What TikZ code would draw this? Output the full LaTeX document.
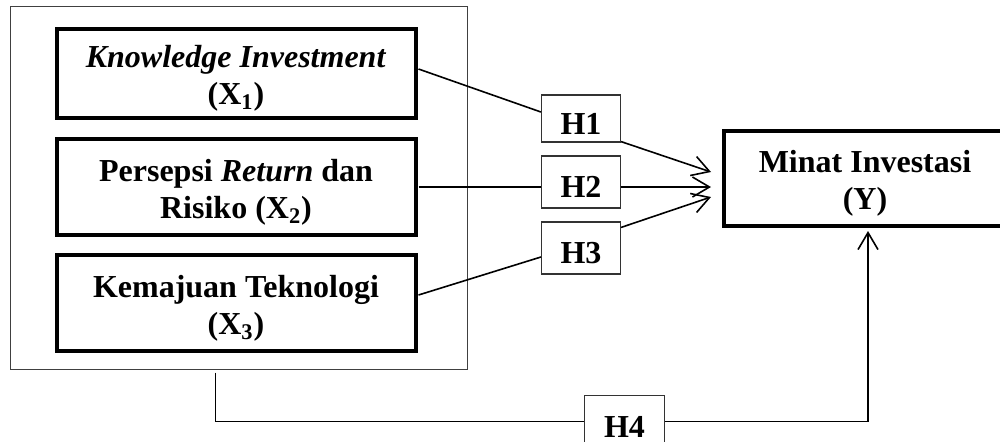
\documentclass[tikz,border=0pt]{standalone}
\usepackage{fontspec}
\setmainfont{Liberation Serif}
\usetikzlibrary{arrows.meta,calc}
\tikzset{
  thickbox/.style={draw=black, line width=2pt, rectangle, inner sep=0pt, minimum width=179.5pt},
  hbox/.style={draw=black!80, line width=0.6pt, rectangle, inner sep=0pt, minimum width=39.5pt},
  outerbox/.style={draw=black!75, line width=0.5pt, rectangle, inner sep=0pt},
  txt/.style={font=\fontsize{16}{18.5}\selectfont\bfseries, align=center, inner sep=0pt},
  conn/.style={line width=0.8pt, black},
  arr/.style={conn, -{Straight Barb[length=8.5pt,width=10pt,line width=0.8pt]}},
}
\begin{document}
\begin{tikzpicture}[x=0.5pt,y=-0.5pt]
\useasboundingbox (0,0) rectangle (1000,441);
% outer frame
\node[outerbox, minimum width=228.5pt, minimum height=181.5pt] (outer) at (238.5,187.5) {};
% independent variables
\node[thickbox, minimum height=44.5pt] (b1) at (236,73.5) {};
\node[thickbox, minimum height=48pt] (b2) at (236,187) {};
\node[thickbox, minimum height=48pt] (b3) at (236,303) {};
\node[txt] (t1x) at ($(b1.center)+(0,5)$) {\textit{Knowledge Investment}\\(X\textsubscript{1})};
\node[txt] (t2x) at ($(b2.center)+(0,5)$) {Persepsi \textit{Return} dan\\Risiko (X\textsubscript{2})};
\node[txt] (t3x) at ($(b3.center)+(0,5)$) {Kemajuan Teknologi\\(X\textsubscript{3})};
% dependent variable
\node[thickbox, minimum width=141pt, minimum height=47.5pt] (yb) at (865,178.5) {};
\node[txt] (tyx) at ($(yb.center)+(0,5)$) {Minat Investasi\\(Y)};
% hypothesis boxes
\node[hbox, minimum height=23.5pt] (h1) at (581,118.5) {};
\node[hbox, minimum height=26pt] (h2) at (581,182) {};
\node[hbox, minimum height=26pt] (h3) at (581,248) {};
\node[hbox, minimum width=40pt, minimum height=26pt] (h4) at (624.5,421.5) {};
\node[txt] at ($(h1.center)+(0,5)$) {H1};
\node[txt] at ($(h2.center)+(0,5)$) {H2};
\node[txt] at ($(h3.center)+(0,5)$) {H3};
\node[txt] at ($(h4.center)+(0,5)$) {H4};
% arrow tips
\coordinate (p1) at (711,172);
\coordinate (p2) at (711,187);
\coordinate (p3) at (711,197);
% connectors
\draw[conn] ($(b1.east)+(1,-4.5)$) -- ($(h1.west)+(0,-6.5)$);
\draw[arr] ($(h1.south east)+(0,-1)$) -- (p1);
\draw[conn] ($(b2.east)+(1,0)$) -- (b2.east -| h2.west);
\draw[arr] (b2.east -| h2.east) -- (p2);
\draw[conn] ($(b3.east)+(1,-8)$) -- ($(h3.west)+(0,9)$);
\draw[arr] ($(h3.north east)+(0,6)$) -- (p3);
% H4 loop
\coordinate (c0) at ($(outer.south west)+(206,3)$);
\draw[conn] (c0) |- (h4.west);
\draw[arr] (h4.east) -| ($(yb.south)+(3,3)$);
\end{tikzpicture}
\end{document}
